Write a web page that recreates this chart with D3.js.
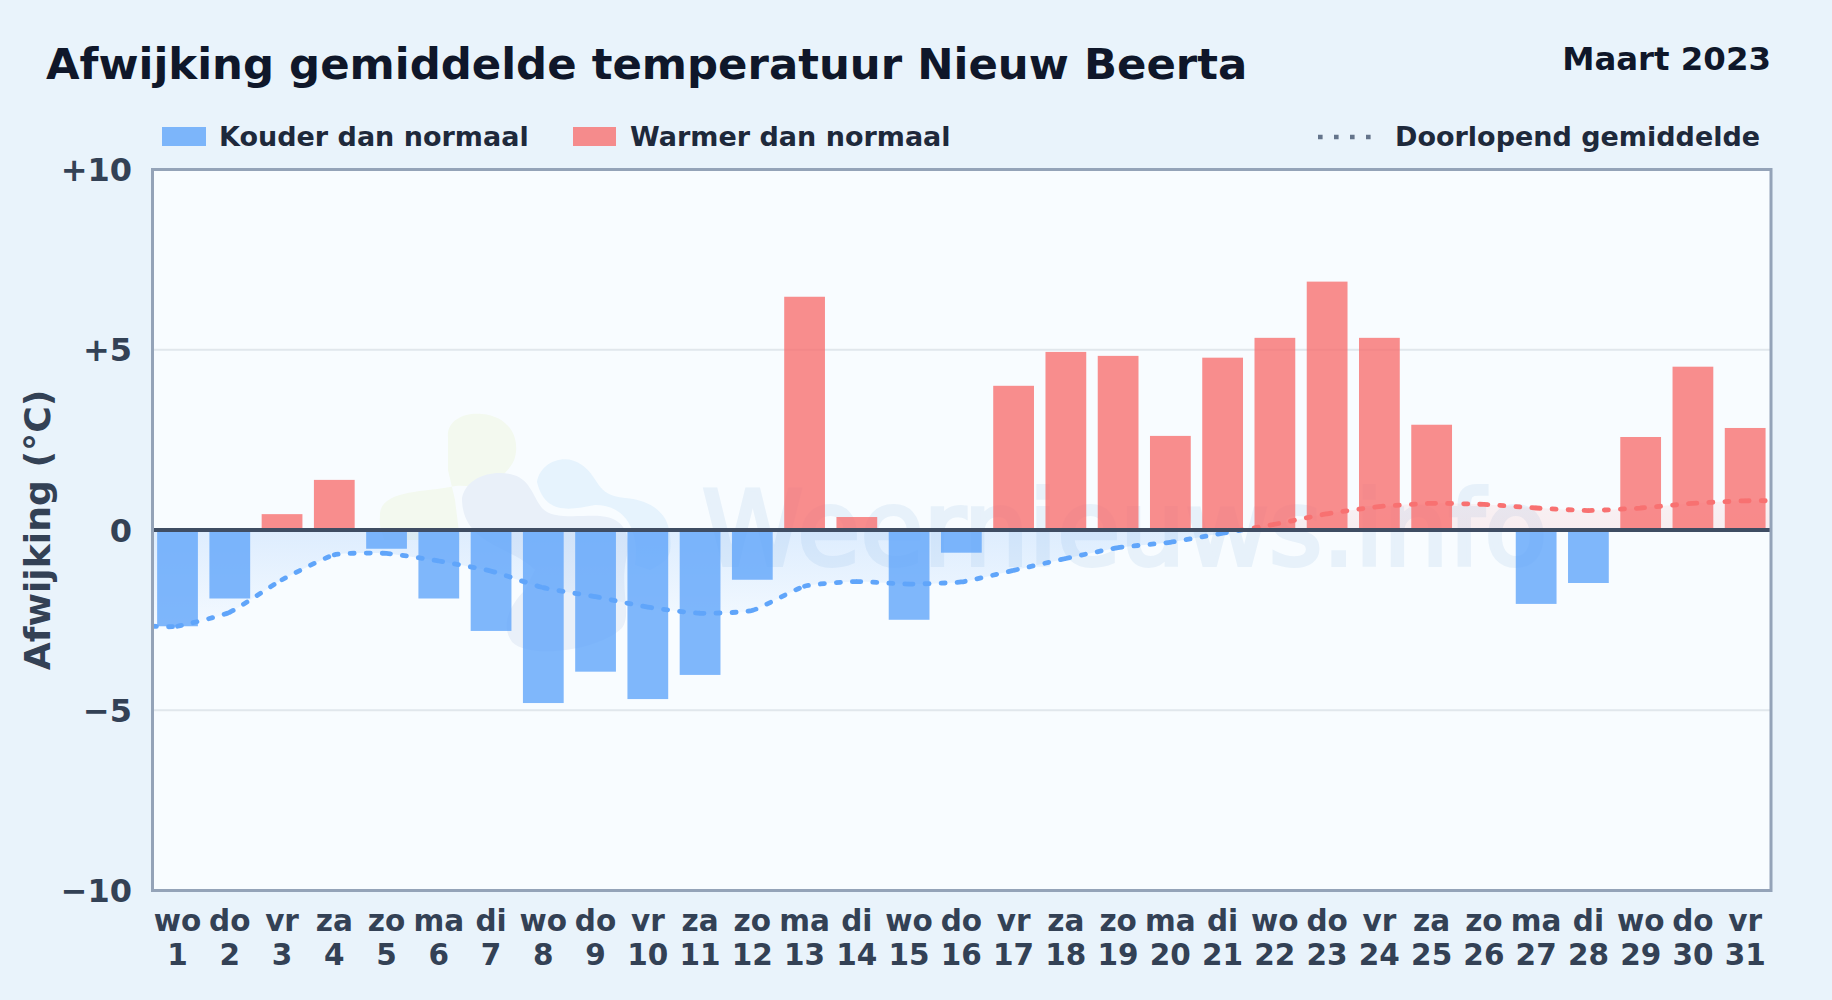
<!DOCTYPE html>
<html><head><meta charset="utf-8">
<script src="https://cdn.jsdelivr.net/npm/d3@7"></script>
<style>html,body{margin:0;padding:0;background:#e9f3fb}svg{display:block}text{font-family:"DejaVu Sans";font-weight:700}</style>
</head><body><svg id="c" width="1832" height="1000"></svg>
<script>
const weekdagen=["wo","do","vr","za","zo","ma","di","wo","do","vr","za","zo","ma","di","wo","do","vr","za","zo","ma","di","wo","do","vr","za","zo","ma","di","wo","do","vr"];
const dagen=d3.range(1,32);
const afwijking=[-2.67,-1.9,0.44,1.39,-0.52,-1.9,-2.8,-4.8,-3.93,-4.69,-4.02,-1.38,6.47,0.36,-2.49,-0.63,4.0,4.94,4.83,2.61,4.78,5.33,6.89,5.33,2.92,0,-2.05,-1.47,2.58,4.53,2.83];
const gemiddelde=[-2.67,-2.28,-1.38,-0.69,-0.65,-0.86,-1.14,-1.6,-1.85,-2.14,-2.31,-2.23,-1.56,-1.43,-1.5,-1.44,-1.12,-0.79,-0.49,-0.34,-0.09,0.16,0.45,0.65,0.74,0.71,0.61,0.54,0.61,0.74,0.81];
const yTicks=[10,5,0,-5,-10];
const yLabels=["+10","+5","0","−5","−10"];
const titel="Afwijking gemiddelde temperatuur Nieuw Beerta", periode="Maart 2023";
const legendaKoud="Kouder dan normaal", legendaWarm="Warmer dan normaal", legendaLijn="Doorlopend gemiddelde", asTitel="Afwijking (°C)", merk="Weernieuws.info";
const blue="#60a5fa",red="#f87171";

const L=152.5,R=1771,T=169.5,B=890.5;
const svg=d3.select("#c");
const defs=svg.append("defs");
const fillB=defs.append("linearGradient").attr("id","fb").attr("x1",0).attr("y1",0).attr("x2",0).attr("y2",1);
fillB.append("stop").attr("offset",0).attr("stop-color",blue).attr("stop-opacity",.22);
fillB.append("stop").attr("offset",1).attr("stop-color",blue).attr("stop-opacity",.03);
const fillR=defs.append("linearGradient").attr("id","fr").attr("x1",0).attr("y1",1).attr("x2",0).attr("y2",0);
fillR.append("stop").attr("offset",0).attr("stop-color",red).attr("stop-opacity",.2);
fillR.append("stop").attr("offset",1).attr("stop-color",red).attr("stop-opacity",.08);

const x=d3.scaleBand().domain(dagen).range([151.4,1771.3]).paddingInner(.22).paddingOuter(.11);
const y=d3.scaleLinear().domain([-10,10]).range([B,T]);
const xc=d=>x(d)+x.bandwidth()/2;

svg.append("rect").attr("width",1832).attr("height",1000).attr("fill","#e9f3fb");
svg.append("rect").attr("x",L).attr("y",T).attr("width",R-L).attr("height",B-T).attr("fill","#f8fcff");
defs.append("clipPath").attr("id","plot").append("rect").attr("x",L).attr("y",T).attr("width",R-L).attr("height",B-T);
defs.append("clipPath").attr("id","neg").append("rect").attr("x",L).attr("y",y(0)).attr("width",R-L).attr("height",B-y(0));
defs.append("clipPath").attr("id","pos").append("rect").attr("x",L).attr("y",T).attr("width",R-L).attr("height",y(0)-T);

// grid
svg.append("g").selectAll("line").data([5,-5]).join("line").attr("x1",L).attr("x2",R).attr("y1",d=>y(d)).attr("y2",d=>y(d)).attr("stroke","#e1e7ec").attr("stroke-width",2);

// watermark
const wm=svg.append("g");
wm.append("path").attr("fill","#f3f9ef").attr("d","M448,438C446,420 465,412 482,414C505,416 518,432 516,452C514,468 505,470 500,480C490,495 470,482 450,487C425,492 380,490 380,515C379,530 382,530 384,540L460,540L455,500L448,470Z");
wm.append("path").attr("fill","#e9f0f9").attr("d","M462,498C466,478 490,470 510,474C530,478 532,495 542,508C552,520 580,515 600,516C625,518 632,535 626,560C620,590 632,615 622,628C600,650 530,660 512,642C500,625 510,605 525,590L535,570C510,545 462,545 462,498Z");
wm.append("path").attr("fill","#e6f3fd").attr("d","M537,482C540,462 565,452 582,465C600,478 595,495 625,498C650,500 668,512 670,535C672,555 670,560 650,570L635,565C640,530 625,505 595,505C570,510 545,515 537,482Z");
wm.append("text").attr("x",702).attr("y",565).attr("font-size",102.5).attr("fill","#e7f1fa").attr("stroke","#e7f1fa").attr("stroke-width",4).style("font-weight",400).text(merk);

// area fill under running mean, split at zero
const ptsX=d3.scaleLinear().domain([1,31]).range([xc(1),xc(31)]);
const punten=gemiddelde.map((v,i)=>[ptsX(i+1),v]);
const volledig=[[L,gemiddelde[0]],...punten,[R,gemiddelde[30]]];
const kromme=d3.curveCardinal.tension(.5);
const area=d3.area().x(d=>d[0]).y0(y(0)).y1(d=>y(d[1])).curve(kromme);
const line=d3.line().x(d=>d[0]).y(d=>y(d[1])).curve(kromme);
const gArea=svg.append("g");
gArea.append("g").attr("clip-path","url(#neg)").append("path").attr("d",area(volledig)).attr("fill","url(#fb)");
gArea.append("g").attr("clip-path","url(#pos)").append("path").attr("d",area(volledig)).attr("fill","url(#fr)");

// bars
svg.append("g").selectAll("rect").data(afwijking.map((v,i)=>({v,d:i+1})).filter(o=>o.v!==0)).join("rect")
 .attr("x",o=>x(o.d)).attr("width",x.bandwidth())
 .attr("y",o=>y(Math.max(o.v,0))).attr("height",o=>Math.abs(y(o.v)-y(0)))
 .attr("fill",o=>o.v<0?blue:red).attr("fill-opacity",.8);

// running mean: every day-to-day segment restarts the dot pattern
const perSegment=s=>s.replace(/C([^CML]*)/g,(m,a)=>{const p=a.split(",");return "C"+a+"M"+p[4]+","+p[5];});
const pad=perSegment(line(volledig));
const lijn=(clip,c)=>svg.append("g").attr("clip-path","url(#plot)").append("g").attr("clip-path","url(#"+clip+")").append("path").attr("d",pad).attr("fill","none").attr("stroke",c).attr("stroke-width",4.8).attr("stroke-linecap","round").attr("stroke-dasharray","4 12");
lijn("neg",blue);lijn("pos",red);

// zero line and frame
svg.append("line").attr("x1",L).attr("x2",R).attr("y1",y(0)).attr("y2",y(0)).attr("stroke","#3f4d63").attr("stroke-width",3.8);
svg.append("rect").attr("x",L).attr("y",T).attr("width",R-L).attr("height",B-T).attr("fill","none").attr("stroke","#94a3b8").attr("stroke-width",3);

// y axis
svg.append("g").selectAll("text").data(yTicks).join("text").attr("x",132).attr("y",d=>y(d)).attr("dy",".36em").attr("text-anchor","end").attr("font-size",32).attr("fill","#334155").text((d,i)=>yLabels[i]);
svg.append("text").attr("transform","translate(50,530) rotate(-90)").attr("text-anchor","middle").attr("font-size",36.2).attr("fill","#334155").text(asTitel);

// x axis
const xa=svg.append("g").attr("font-size",29.5).attr("fill","#334155").attr("text-anchor","middle");
xa.selectAll("text.w").data(dagen).join("text").attr("class","w").attr("x",d=>xc(d)).attr("y",931).text((d,i)=>weekdagen[i]);
xa.selectAll("text.n").data(dagen).join("text").attr("class","n").attr("x",d=>xc(d)).attr("y",964.5).text(d=>d);

// title
svg.append("text").attr("x",46).attr("y",79).attr("font-size",43.4).attr("fill","#0f172a").text(titel);
svg.append("text").attr("x",1771).attr("y",70).attr("text-anchor","end").attr("font-size",32.4).attr("fill","#0f172a").text(periode);

// legend
const lg=svg.append("g").attr("font-size",27).attr("fill","#1e293b");
lg.append("rect").attr("x",162).attr("y",127).attr("width",44).attr("height",19).attr("fill",blue).attr("fill-opacity",.8);
lg.append("text").attr("x",219).attr("y",146).text(legendaKoud);
lg.append("rect").attr("x",573).attr("y",127).attr("width",43).attr("height",19).attr("fill",red).attr("fill-opacity",.8);
lg.append("text").attr("x",630).attr("y",146).text(legendaWarm);
lg.append("line").attr("x1",1318).attr("x2",1374).attr("y1",137).attr("y2",137).attr("stroke","#64748b").attr("stroke-width",4.6).attr("stroke-dasharray","4.6 11.4");
lg.append("text").attr("x",1395).attr("y",146).text(legendaLijn);
</script></body></html>
